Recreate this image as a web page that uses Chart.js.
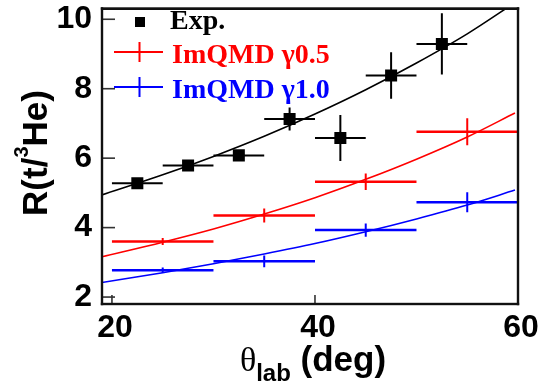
<!DOCTYPE html>
<html>
<head>
<meta charset="utf-8">
<script src="https://cdn.jsdelivr.net/npm/chart.js@4.4.1/dist/chart.umd.min.js"></script>
<style>
html, body { margin: 0; padding: 0; background: #fff; }
#wrap { position: relative; width: 553px; height: 383px; }
#frame { position: absolute; box-sizing: border-box; border: 2px solid #111; pointer-events: none; }
</style>
</head>
<body>
<div id="wrap"><canvas id="ratioChart" width="553" height="383"></canvas><div id="frame"></div></div>
<script>
// tick labels of both axes
const xTickValues = [20, 40, 60];
const yTickValues = [2, 4, 6, 8, 10];

// experimental points: angle bin centre, ratio, vertical error
const expAngle = [22.5, 27.5, 32.5, 37.5, 42.5, 47.5, 52.5];
const expRatio = [5.28, 5.79, 6.08, 7.13, 6.58, 8.38, 9.29];
const expError = [0.08, 0.08, 0.10, 0.33, 0.66, 0.67, 0.88];
const expHalfBin = 2.5;

// ImQMD results: angle bin centre, ratio, vertical error
const simAngle = [25, 35, 45, 55];
const gamma05Ratio = [3.60, 4.35, 5.32, 6.76];
const gamma05Error = [0.10, 0.20, 0.24, 0.39];
const gamma10Ratio = [2.77, 3.03, 3.93, 4.73];
const gamma10Error = [0.08, 0.17, 0.19, 0.29];
const simHalfBin = 5;

// fitted curves
const fitAngle = [19, 25, 30, 35, 40, 45, 50, 55, 59.7];
const fitExp = [4.94, 5.52, 6.05, 6.63, 7.27, 7.97, 8.74, 9.58, 10.48];
const fitGamma05 = [3.16, 3.58, 3.96, 4.39, 4.86, 5.39, 5.97, 6.61, 7.30];
const fitGamma10 = [2.42, 2.70, 2.96, 3.24, 3.54, 3.88, 4.25, 4.65, 5.08];

const RED = '#ff0000';
const BLUE = '#0000ff';
const BLACK = '#000000';

// {x, y} pairs for a line dataset
function toPoints (xs, ys) {
    return xs.map((x, i) => { return {x: x, y: ys[i]}; }); }

// horizontal bin bars, separated by gaps
function horizontalBars (xs, ys, half) {
    let pts = [];
    xs.forEach((x, i) => {
        pts.push({x: x - half, y: ys[i]}, {x: x + half, y: ys[i]}, {x: x + half, y: null}); });
    return pts; }

// vertical error bars, separated by gaps
function verticalBars (xs, ys, errs) {
    let pts = [];
    xs.forEach((x, i) => {
        pts.push({x: x, y: ys[i] - errs[i]}, {x: x, y: ys[i] + errs[i]}, {x: x, y: null}); });
    return pts; }

// line dataset without points
function lineSet (data, color, width, order) {
    return { data: data, showLine: true, borderColor: color, borderWidth: width,
        pointRadius: 0, fill: false, spanGaps: false, order: order }; }

function curveSet (data, color) {
    let set = lineSet(data, color, 1.6, 5);
    set.cubicInterpolationMode = 'monotone';
    return set; }

const datasets = [
    { data: toPoints(expAngle, expRatio), pointStyle: 'rect', pointRadius: 8.5,
      backgroundColor: BLACK, borderColor: BLACK, borderWidth: 0, showLine: false, order: 0 },
    lineSet(horizontalBars(expAngle, expRatio, expHalfBin), BLACK, 2, 1),
    lineSet(verticalBars(expAngle, expRatio, expError), BLACK, 2, 1),
    lineSet(horizontalBars(simAngle, gamma05Ratio, simHalfBin), RED, 2.4, 2),
    lineSet(verticalBars(simAngle, gamma05Ratio, gamma05Error), RED, 2, 2),
    lineSet(horizontalBars(simAngle, gamma10Ratio, simHalfBin), BLUE, 2.4, 2),
    lineSet(verticalBars(simAngle, gamma10Ratio, gamma10Error), BLUE, 2, 2),
    curveSet(toPoints(fitAngle, fitExp), BLACK),
    curveSet(toPoints(fitAngle, fitGamma05), RED),
    curveSet(toPoints(fitAngle, fitGamma10), BLUE)
];

// draw pieces of text with their own font and baseline shift, centred at (0, 0)
function drawPieces (ctx, pieces) {
    let total = 0;
    pieces.forEach((p) => { ctx.font = p.font; p.w = ctx.measureText(p.text).width; total += p.w; });
    let x = -total / 2;
    pieces.forEach((p) => {
        ctx.font = p.font;
        ctx.fillText(p.text, x, p.dy || 0);
        x += p.w; }); }

// frame, inner ticks, legend and axis titles in ROOT style
const decorations = {
    id: 'decorations',
    afterDraw (chart) {
        const ctx = chart.ctx;
        const xs = chart.scales.x, ys = chart.scales.y;
        const left = xs.left, right = xs.right, top = ys.top, bottom = ys.bottom;
        ctx.save();

        // inner ticks
        ctx.fillStyle = '#333333';
        yTickValues.forEach((v) => {
            const py = ys.getPixelForValue(v);
            ctx.fillRect(left, py - 0.8, 13, 1.6); });
        xTickValues.forEach((v) => {
            const px = xs.getPixelForValue(v);
            ctx.fillRect(px - 0.8, bottom - 9, 1.6, 9); });

        // frame
        ctx.fillStyle = '#111111';
        ctx.fillRect(left - 1.2, top - 1.2, right - left + 2.4, 2.4);
        ctx.fillRect(left - 1.2, bottom - 1.2, right - left + 2.4, 2.4);
        ctx.fillRect(left - 1.2, top - 1.2, 2.4, bottom - top + 2.4);
        ctx.fillRect(right - 1.2, top - 1.2, 2.4, bottom - top + 2.4);

        ctx.textBaseline = 'alphabetic';
        ctx.textAlign = 'left';

        // legend
        ctx.fillStyle = BLACK;
        ctx.fillRect(135, 17, 10, 10);
        ctx.font = 'bold 28px "Liberation Serif"';
        ctx.fillText('Exp.', 170, 29);
        [[RED, 52, 63, 'ImQMD γ0.5'], [BLUE, 87, 98, 'ImQMD γ1.0']].forEach((row) => {
            ctx.strokeStyle = row[0];
            ctx.fillStyle = row[0];
            ctx.lineWidth = 2;
            ctx.beginPath();
            ctx.moveTo(114, row[1]); ctx.lineTo(163, row[1]);
            ctx.moveTo(139.5, row[1] - 10); ctx.lineTo(139.5, row[1] + 10);
            ctx.stroke();
            ctx.fillText(row[3], 172, row[2]); });

        // axis titles
        ctx.fillStyle = BLACK;
        ctx.save();
        ctx.translate(313, 371);
        drawPieces(ctx, [
            {text: 'θ', font: '34px "Liberation Serif"'},
            {text: 'lab', font: 'bold 24px "Liberation Sans"', dy: 10},
            {text: ' (deg)', font: 'bold 35px "Liberation Sans"'} ]);
        ctx.restore();
        ctx.save();
        ctx.translate(46.5, 153);
        ctx.rotate(-Math.PI / 2);
        drawPieces(ctx, [
            {text: 'R(t/', font: 'bold 35px "Liberation Sans"'},
            {text: '3', font: 'bold 20px "Liberation Sans"', dy: -19},
            {text: 'He)', font: 'bold 35px "Liberation Sans"'} ]);
        ctx.restore();
        ctx.restore();
    }
};

const tickFont = { family: '"Liberation Sans", Arial, sans-serif', size: 32, weight: 'bold' };

const ratioChart = new Chart('ratioChart', {
    type: 'scatter',
    data: { datasets: datasets },
    options: {
        responsive: false,
        animation: false,
        events: [],
        layout: { padding: { left: 0, right: 35, top: 3, bottom: 0 } },
        plugins: { legend: { display: false }, tooltip: { enabled: false } },
        scales: {
            x: {
                type: 'linear', position: 'bottom', min: 19.02, max: 60,
                grid: { display: false, drawTicks: false }, border: { display: false },
                ticks: { font: tickFont, color: BLACK, padding: 5, labelOffset: 3, maxRotation: 0 },
                afterBuildTicks: (s) => { s.ticks = xTickValues.map((v) => { return {value: v}; }); },
                afterFit: (s) => { s.height = 79; s.paddingLeft = 0; s.paddingRight = 0; }
            },
            y: {
                type: 'linear', position: 'left', min: 1.8, max: 10.31,
                grid: { display: false, drawTicks: false }, border: { display: false },
                ticks: { font: tickFont, color: BLACK, padding: 10 },
                afterBuildTicks: (s) => { s.ticks = yTickValues.map((v) => { return {value: v}; }); },
                afterFit: (s) => { s.width = 102; s.paddingTop = 0; s.paddingBottom = 0; }
            }
        }
    },
    plugins: [decorations]
});

// overlay frame placed on the chart area reported by Chart.js
const area = ratioChart.chartArea;
const frame = document.getElementById('frame');
frame.style.left = (area.left - 1) + 'px';
frame.style.top = (area.top - 1) + 'px';
frame.style.width = (area.right - area.left + 2) + 'px';
frame.style.height = (area.bottom - area.top + 2) + 'px';
</script>
</body>
</html>
